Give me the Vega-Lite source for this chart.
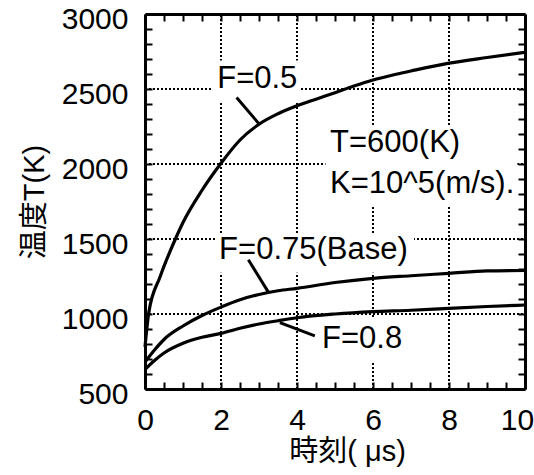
{
  "$schema": "https://vega.github.io/schema/vega-lite/v6.json",
  "width": 380,
  "height": 375,
  "autosize": {"type": "none"},
  "padding": {"left": 145, "top": 14, "right": 9, "bottom": 86},
  "background": "white",
  "config": {
    "view": {"stroke": null},
    "font": "Liberation Sans, Noto Sans CJK JP"
  },
  "datasets": {
    "curves": [
      {"t": 0, "T": 780, "series": "F=0.5"},
      {"t": 0.1, "T": 1010, "series": "F=0.5"},
      {"t": 0.4, "T": 1250, "series": "F=0.5"},
      {"t": 0.8, "T": 1500, "series": "F=0.5"},
      {"t": 1, "T": 1610, "series": "F=0.5"},
      {"t": 1.5, "T": 1825, "series": "F=0.5"},
      {"t": 2, "T": 2005, "series": "F=0.5"},
      {"t": 2.5, "T": 2160, "series": "F=0.5"},
      {"t": 3, "T": 2265, "series": "F=0.5"},
      {"t": 3.5, "T": 2335, "series": "F=0.5"},
      {"t": 4, "T": 2388, "series": "F=0.5"},
      {"t": 4.5, "T": 2432, "series": "F=0.5"},
      {"t": 5, "T": 2475, "series": "F=0.5"},
      {"t": 5.5, "T": 2520, "series": "F=0.5"},
      {"t": 6, "T": 2560, "series": "F=0.5"},
      {"t": 6.5, "T": 2592, "series": "F=0.5"},
      {"t": 7, "T": 2620, "series": "F=0.5"},
      {"t": 8, "T": 2672, "series": "F=0.5"},
      {"t": 9, "T": 2710, "series": "F=0.5"},
      {"t": 10, "T": 2745, "series": "F=0.5"},
      {"t": 0, "T": 680, "series": "F=0.75"},
      {"t": 0.25, "T": 760, "series": "F=0.75"},
      {"t": 0.5, "T": 830, "series": "F=0.75"},
      {"t": 1, "T": 920, "series": "F=0.75"},
      {"t": 1.5, "T": 990, "series": "F=0.75"},
      {"t": 2, "T": 1046, "series": "F=0.75"},
      {"t": 2.5, "T": 1095, "series": "F=0.75"},
      {"t": 3, "T": 1130, "series": "F=0.75"},
      {"t": 3.5, "T": 1155, "series": "F=0.75"},
      {"t": 4, "T": 1171, "series": "F=0.75"},
      {"t": 5, "T": 1210, "series": "F=0.75"},
      {"t": 6, "T": 1238, "series": "F=0.75"},
      {"t": 7, "T": 1255, "series": "F=0.75"},
      {"t": 8, "T": 1271, "series": "F=0.75"},
      {"t": 9, "T": 1287, "series": "F=0.75"},
      {"t": 10, "T": 1290, "series": "F=0.75"},
      {"t": 0, "T": 630, "series": "F=0.8"},
      {"t": 0.25, "T": 690, "series": "F=0.8"},
      {"t": 0.5, "T": 740, "series": "F=0.8"},
      {"t": 1, "T": 805, "series": "F=0.8"},
      {"t": 1.5, "T": 845, "series": "F=0.8"},
      {"t": 2, "T": 871, "series": "F=0.8"},
      {"t": 2.5, "T": 905, "series": "F=0.8"},
      {"t": 3, "T": 933, "series": "F=0.8"},
      {"t": 3.5, "T": 955, "series": "F=0.8"},
      {"t": 4, "T": 975, "series": "F=0.8"},
      {"t": 5, "T": 1000, "series": "F=0.8"},
      {"t": 6, "T": 1016, "series": "F=0.8"},
      {"t": 7, "T": 1025, "series": "F=0.8"},
      {"t": 8, "T": 1038, "series": "F=0.8"},
      {"t": 9, "T": 1050, "series": "F=0.8"},
      {"t": 10, "T": 1060, "series": "F=0.8"}
    ],
    "vgrid": [{"gx": 2}, {"gx": 4}, {"gx": 6}, {"gx": 8}],
    "hgrid": [{"gy": 1000}, {"gy": 1500}, {"gy": 2000}, {"gy": 2500}],
    "boxes": [
      {"xa": 1.75, "xb": 4.1, "ya": 2420, "yb": 2690},
      {"xa": 4.75, "xb": 9.8, "ya": 1717, "yb": 2251},
      {"xa": 1.87, "xb": 7.08, "ya": 1275, "yb": 1536},
      {"xa": 4.55, "xb": 6.9, "ya": 680, "yb": 975}
    ],
    "leaders": [
      {"xa": 2.41, "xb": 3.01, "ya": 2443, "yb": 2265},
      {"xa": 2.72, "xb": 3.25, "ya": 1362, "yb": 1144},
      {"xa": 3.55, "xb": 4.47, "ya": 943, "yb": 854}
    ],
    "labels": [
      {"tx": 1.9, "ty": 2566, "label": "F=0.5"},
      {"tx": 4.87, "ty": 2141, "label": "T=600(K)"},
      {"tx": 4.87, "ty": 1864, "label": "K=10^5(m/s)."},
      {"tx": 1.95, "ty": 1429, "label": "F=0.75(Base)"},
      {"tx": 4.66, "ty": 833, "label": "F=0.8"}
    ]
  },
  "layer": [
    {
      "data": {"name": "vgrid"},
      "mark": {"type": "rule", "color": "black", "strokeWidth": 2, "strokeDash": [2, 2]},
      "encoding": {
        "x": {"field": "gx", "type": "quantitative", "scale": {"domain": [0, 10], "nice": false}, "axis": null},
        "y": {"datum": 500, "type": "quantitative", "scale": {"domain": [500, 3000], "nice": false, "zero": false}, "axis": null},
        "y2": {"datum": 3000}
      }
    },
    {
      "data": {"name": "hgrid"},
      "mark": {"type": "rule", "color": "black", "strokeWidth": 2, "strokeDash": [2, 2]},
      "encoding": {
        "y": {"field": "gy", "type": "quantitative", "scale": {"domain": [500, 3000], "nice": false, "zero": false}, "axis": null},
        "x": {"datum": 0, "type": "quantitative", "scale": {"domain": [0, 10], "nice": false}, "axis": null},
        "x2": {"datum": 10}
      }
    },
    {
      "data": {"name": "boxes"},
      "mark": {"type": "rect", "fill": "white"},
      "encoding": {
        "x": {"field": "xa", "type": "quantitative", "scale": {"domain": [0, 10], "nice": false}, "axis": null},
        "x2": {"field": "xb"},
        "y": {"field": "ya", "type": "quantitative", "scale": {"domain": [500, 3000], "nice": false, "zero": false}, "axis": null},
        "y2": {"field": "yb"}
      }
    },
    {
      "data": {"name": "curves"},
      "mark": {"type": "line", "color": "black", "strokeWidth": 3.2, "interpolate": "monotone"},
      "encoding": {
        "x": {
          "field": "t", "type": "quantitative",
          "scale": {"domain": [0, 10], "nice": false},
          "axis": {
            "orient": "bottom",
            "zindex": 1,
            "grid": false,
            "title": "時刻( μs)",
            "titleX": 202,
            "titlePadding": 2,
            "titleFont": "Liberation Sans, Noto Sans CJK JP",
            "titleFontSize": 29,
            "titleFontWeight": "normal",
            "titleColor": "black",
            "values": [0, 0.5, 1, 1.5, 2, 2.5, 3, 3.5, 4, 4.5, 5, 5.5, 6, 6.5, 7, 7.5, 8, 8.5, 9, 9.5, 10],
            "labelExpr": "datum.value % 2 == 0 ? format(datum.value, 'd') : ''",
            "labelOffset": {"condition": {"test": "datum.value == 10", "value": -8}, "value": 0},
            "labelFont": "Liberation Sans",
            "labelFontSize": 30,
            "labelColor": "black",
            "labelOverlap": false,
            "labelFlush": false,
            "labelPadding": 23,
            "domainColor": "black",
            "domainWidth": 3,
            "tickColor": "black",
            "tickWidth": 2,
            "tickSize": -7
          }
        },
        "y": {
          "field": "T", "type": "quantitative",
          "scale": {"domain": [500, 3000], "nice": false, "zero": false},
          "axis": {
            "orient": "left",
            "zindex": 1,
            "grid": false,
            "title": "温度T(K)",
            "titlePadding": 12,
            "titleFont": "Liberation Sans, Noto Sans CJK JP",
            "titleFontSize": 29,
            "titleFontWeight": "normal",
            "titleColor": "black",
            "values": [500, 600, 700, 800, 900, 1000, 1100, 1200, 1300, 1400, 1500, 1600, 1700, 1800, 1900, 2000, 2100, 2200, 2300, 2400, 2500, 2600, 2700, 2800, 2900, 3000],
            "labelExpr": "datum.value % 500 == 0 ? format(datum.value, 'd') : ''",
            "labelOffset": 5,
            "labelFont": "Liberation Sans",
            "labelFontSize": 30,
            "labelColor": "black",
            "labelOverlap": false,
            "labelFlush": false,
            "labelPadding": 24,
            "domainColor": "black",
            "domainWidth": 3,
            "tickColor": "black",
            "tickWidth": 2,
            "tickSize": -7
          }
        },
        "detail": {"field": "series"}
      }
    },
    {
      "data": {"name": "leaders"},
      "mark": {"type": "rule", "color": "black", "strokeWidth": 3},
      "encoding": {
        "x": {
          "field": "xa", "type": "quantitative",
          "scale": {"domain": [0, 10], "nice": false},
          "axis": {
            "orient": "top", "zindex": 1, "title": null, "labels": false, "grid": false,
            "values": [0, 0.5, 1, 1.5, 2, 2.5, 3, 3.5, 4, 4.5, 5, 5.5, 6, 6.5, 7, 7.5, 8, 8.5, 9, 9.5, 10],
            "domainColor": "black", "domainWidth": 3,
            "tickColor": "black", "tickWidth": 2, "tickSize": -7
          }
        },
        "x2": {"field": "xb"},
        "y": {
          "field": "ya", "type": "quantitative",
          "scale": {"domain": [500, 3000], "nice": false, "zero": false},
          "axis": {
            "orient": "right", "zindex": 1, "title": null, "labels": false, "grid": false,
            "values": [500, 600, 700, 800, 900, 1000, 1100, 1200, 1300, 1400, 1500, 1600, 1700, 1800, 1900, 2000, 2100, 2200, 2300, 2400, 2500, 2600, 2700, 2800, 2900, 3000],
            "domainColor": "black", "domainWidth": 3,
            "tickColor": "black", "tickWidth": 2, "tickSize": -7
          }
        },
        "y2": {"field": "yb"}
      }
    },
    {
      "data": {"name": "labels"},
      "mark": {"type": "text", "align": "left", "baseline": "middle", "font": "Liberation Sans", "fontSize": 31, "color": "black"},
      "encoding": {
        "x": {"field": "tx", "type": "quantitative", "scale": {"domain": [0, 10], "nice": false}, "axis": null},
        "y": {"field": "ty", "type": "quantitative", "scale": {"domain": [500, 3000], "nice": false, "zero": false}, "axis": null},
        "text": {"field": "label"}
      }
    }
  ],
  "resolve": {"axis": {"x": "independent", "y": "independent"}}
}
